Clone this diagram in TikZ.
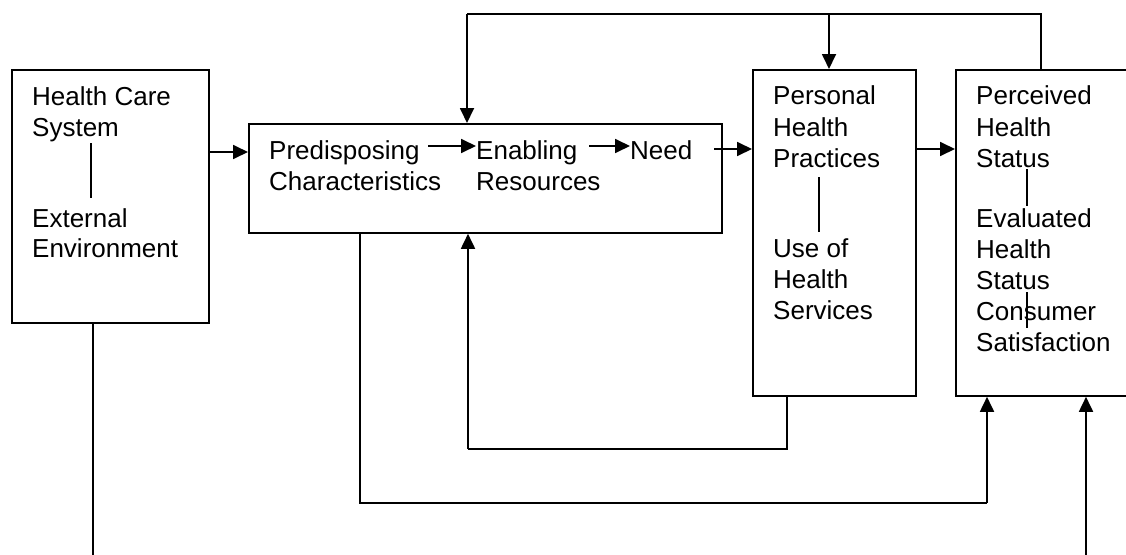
\documentclass[tikz,border=0pt]{standalone}
\usepackage{fontspec}
\setmainfont{Liberation Sans}
\usetikzlibrary{arrows.meta}
\tikzset{
  boxnode/.style={draw, line width=1.8pt, rectangle, anchor=north west, inner sep=0pt},
  lbl/.style={anchor=base west, inner sep=0pt, font=\fontsize{26}{31}\selectfont},
  arr/.style={line width=1.8pt, -{Triangle[length=15pt,width=14pt]}},
  ln/.style={line width=1.6pt},
  thinln/.style={line width=1.3pt}
}
\begin{document}
\begin{tikzpicture}[x=1pt,y=-1pt]
\clip (0,0) rectangle (1126,554);
\fill[white] (0,0) rectangle (1126,554);
% boxes
\node[boxnode, minimum width=197pt, minimum height=253pt] (b1) at (11,69) {};
\node[boxnode, minimum width=473pt, minimum height=109pt] (b2) at (248,123) {};
\node[boxnode, minimum width=163pt, minimum height=326pt] (b3) at (752,69) {};
\node[boxnode, minimum width=200pt, minimum height=326pt] (b4) at (955,69) {};
% box 1 text
\node[lbl] (hc1) at (32,105) {Health Care};
\node[lbl] (hc2) at (32,136) {System};
\node[lbl] (ee1) at (32,227) {External};
\node[lbl] (ee2) at (32,257) {Environment};
\draw[thinln] (91,143) -- (91,198);
% box 2 text
\node[lbl] (pd1) at (269,159) {Predisposing};
\node[lbl] (pd2) at (269,190) {Characteristics};
\node[lbl] (en1) at (476,159) {Enabling};
\node[lbl] (en2) at (476,190) {Resources};
\node[lbl] (nd) at (630,159) {Need};
\draw[arr] (428,146) -- (en1.west |- 0,146);
\draw[arr] (589,146) -- (nd.west |- 0,146);
% box 3 text
\node[lbl] (ph1) at (773,104) {Personal};
\node[lbl] (ph2) at (773,136) {Health};
\node[lbl] (ph3) at (773,167) {Practices};
\node[lbl] (us1) at (773,257) {Use of};
\node[lbl] (us2) at (773,288) {Health};
\node[lbl] (us3) at (773,319) {Services};
\draw[thinln] (819,177) -- (819,232);
% box 4 text
\node[lbl] (pv1) at (976,104) {Perceived};
\node[lbl] (pv2) at (976,136) {Health};
\node[lbl] (pv3) at (976,167) {Status};
\node[lbl] (ev1) at (976,227) {Evaluated};
\node[lbl] (ev2) at (976,258) {Health};
\node[lbl] (ev3) at (976,289) {Status};
\node[lbl] (cs1) at (976,320) {Consumer};
\node[lbl] (cs2) at (976,351) {Satisfaction};
\draw[thinln] (1027,169) -- (1027,206);
\draw[thinln] (1027,292) -- (1027,328);
% horizontal arrows between boxes
\draw[arr] (b1.east |- 0,152) -- (b2.west |- 0,152);
\coordinate (s23) at (714,149);
\draw[arr] (s23) -- (b3.west |- 0,149);
\draw[arr] (b3.east |- 0,149) -- (b4.west |- 0,149);
% top feedback
\coordinate (t1) at (1041,14);
\coordinate (t2) at (467,14);
\coordinate (t3) at (829,14);
\draw[ln] (b4.north -| t1) -- (t1) -- (t2);
\draw[arr] (t2) -- (b2.north -| t2);
\draw[arr] (t3) -- (b3.north -| t3);
% inner bottom loop
\coordinate (l1) at (787,449);
\coordinate (l2) at (468,449);
\draw[ln] (b3.south -| l1) -- (l1) -- (l2);
\draw[arr] (l2) -- (b2.south -| l2);
% outer bottom loop
\coordinate (m1) at (360,503);
\coordinate (m2) at (987,503);
\draw[ln] (b2.south -| m1) -- (m1) -- (m2);
\draw[arr] (m2) -- (b4.south -| m2);
% lines to the bottom edge
\coordinate (e1) at (93,556);
\coordinate (e2) at (1086,556);
\draw[thinln] (b1.south -| e1) -- (e1);
\draw[arr] (e2) -- (b4.south -| e2);
\end{tikzpicture}
\end{document}
